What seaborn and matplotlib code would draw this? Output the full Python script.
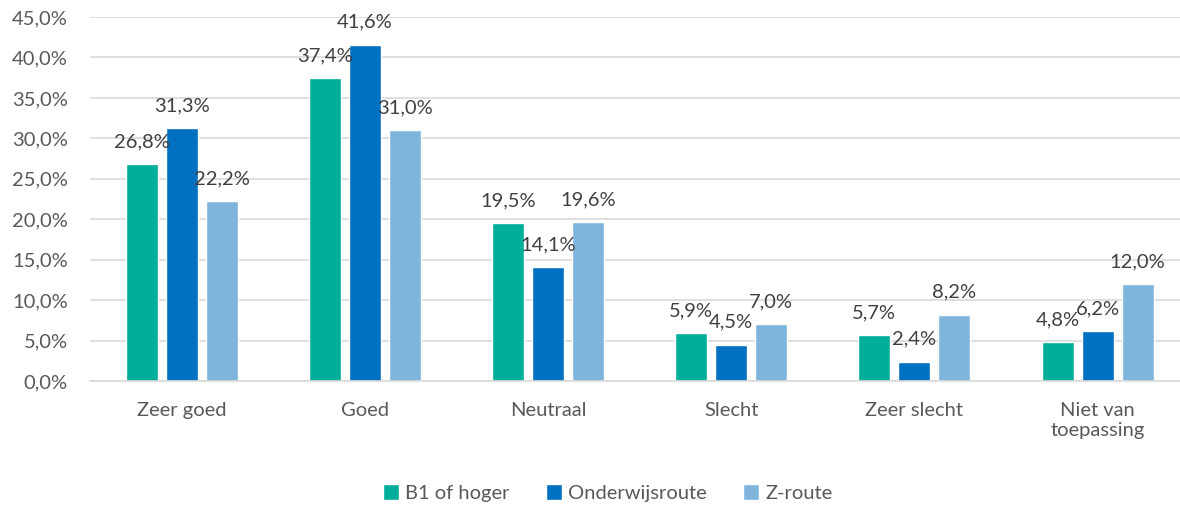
import pandas as pd
import matplotlib
matplotlib.use('Agg')
import matplotlib.pyplot as plt
import seaborn as sns

# Data
categories = ['Zeer goed', 'Goed', 'Neutraal', 'Slecht', 'Zeer slecht', 'Niet van\ntoepassing']
series = ['B1 of hoger', 'Onderwijsroute', 'Z-route']
b1 = [26.8, 37.4, 19.5, 5.9, 5.7, 4.8]
onderwijs = [31.3, 41.6, 14.1, 4.5, 2.4, 6.2]
zroute = [22.2, 31.0, 19.6, 7.0, 8.2, 12.0]
colors = ['#00AE9A', '#0070C0', '#7FB5DD']

rows = []
for name, vals in zip(series, [b1, onderwijs, zroute]):
    for c, v in zip(categories, vals):
        rows.append({'cat': c, 'serie': name, 'val': v})
df = pd.DataFrame(rows)

sns.set_style('white')
plt.rcParams['font.family'] = ['Lato', 'DejaVu Sans']
grey = '#595959'
fs = 14.5

fig = plt.figure(figsize=(11.8, 5.07), dpi=100)
ax = fig.add_axes([90 / 1180, 1 - 381 / 507, 1 - 90 / 1180, (381 - 17) / 507])

sns.barplot(data=df, x='cat', y='val', hue='serie', palette=colors,
            saturation=1, width=0.655, gap=0.2, ax=ax, legend=True)

ax.set_ylim(0, 45)
ax.set_xlim(-0.5, 5.45)
ax.set_yticks(range(0, 46, 5))
ax.set_yticklabels([f'{t},0%' for t in range(0, 46, 5)])
ax.yaxis.grid(True, color='#D9D9D9', linewidth=1.2)
ax.set_axisbelow(True)
for s in ['top', 'right', 'left']:
    ax.spines[s].set_visible(False)
ax.spines['bottom'].set_color('#D9D9D9')
ax.spines['bottom'].set_linewidth(1.2)
ax.tick_params(axis='both', length=0, labelsize=fs, colors=grey)
ax.tick_params(axis='x', pad=15)
ax.tick_params(axis='y', pad=16)
ax.set_xlabel('')
ax.set_ylabel('')

# Data labels
for cont in ax.containers:
    for bar in cont:
        h = bar.get_height()
        ax.annotate(f'{h:.1f}%'.replace('.', ','),
                    (bar.get_x() + bar.get_width() / 2, h),
                    xytext=(0, 10), textcoords='offset points',
                    ha='center', va='bottom', fontsize=fs, color='#404040')

handles, labels = ax.get_legend_handles_labels()
ax.legend_.remove()
fig.legend(handles, labels, loc='center', bbox_to_anchor=(608 / 1180, 1 - 493 / 507),
           ncol=3, frameon=False, fontsize=fs, labelcolor=grey,
           handlelength=0.8, handleheight=0.8, handletextpad=0.3, columnspacing=1.8)

plt.savefig('out.png', dpi=100)
